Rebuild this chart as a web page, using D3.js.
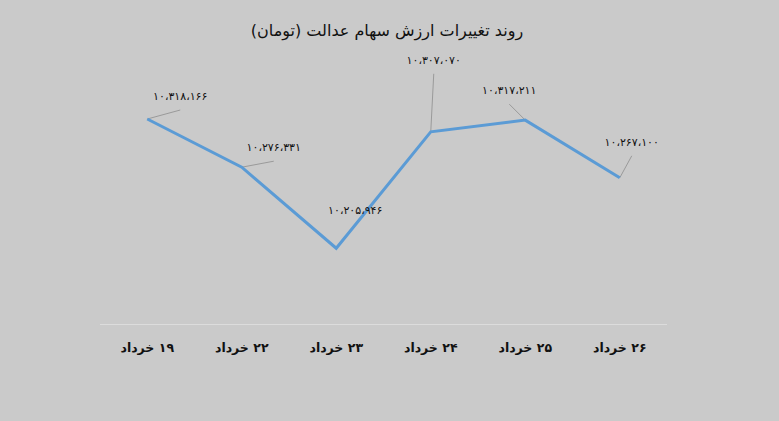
<!DOCTYPE html>
<html><head><meta charset="utf-8">
<script src="https://cdn.jsdelivr.net/npm/d3@7"></script>
<style>
html,body{margin:0;padding:0;background:#cacaca;}
svg{display:block;}
</style></head>
<body>
<svg id="chart" width="779" height="421"></svg>
<script>
const title = "روند تغییرات ارزش سهام عدالت (تومان)";
const categories = ["۱۹ خرداد","۲۲ خرداد","۲۳ خرداد","۲۴ خرداد","۲۵ خرداد","۲۶ خرداد"];
const values = [10318166, 10276331, 10205946, 10307070, 10317211, 10267100];
// label placement offsets relative to point (layout only)
const labelDx = [33, 32, 19, 3, -16, 12];
const labelDy = [-22, -19, -37, -71, -29, -35];
const leader = [true, true, false, true, true, true];

const fa = s => s.replace(/\d/g, d => "۰۱۲۳۴۵۶۷۸۹"[d]);
const fmt = v => fa(d3.format(",")(v)).replace(/,/g, "،");

const svg = d3.select("#chart");
const x = d3.scaleBand().domain(categories).range([100, 667]);
const y = d3.scaleLinear().domain([10200000, 10320000]).range([255.1, 116.9]);
const cx = c => x(c) + x.bandwidth()/2;
const font = "'DejaVu Sans', sans-serif";

svg.append("text").attr("x", 387).attr("y", 31).attr("text-anchor","middle")
  .attr("dominant-baseline","middle").attr("font-family", font).attr("font-size", 16)
  .attr("fill","#111").attr("direction","rtl").text(title);

// axis line
svg.append("line").attr("x1", 100).attr("x2", 667).attr("y1", 324.5).attr("y2", 324.5)
  .attr("stroke", "#dcdcdc").attr("stroke-width", 1);

// category labels
svg.selectAll("text.cat").data(categories).join("text").attr("class","cat")
  .attr("x", d => cx(d)).attr("y", 348).attr("text-anchor","middle")
  .attr("dominant-baseline","middle").attr("font-family", font).attr("font-size", 12.5)
  .attr("font-weight","bold").attr("fill","#111").attr("direction","rtl").text(d => d);

const pts = categories.map((c,i) => ({c, v: values[i], i}));

// leader lines
svg.selectAll("line.lead").data(pts.filter(p => leader[p.i])).join("line").attr("class","lead")
  .attr("x1", p => cx(p.c)).attr("y1", p => y(p.v))
  .attr("x2", p => cx(p.c) + labelDx[p.i]).attr("y2", p => y(p.v) + labelDy[p.i] + 13)
  .attr("stroke", "#9a9a9a").attr("stroke-width", 1);

// line
svg.append("path").datum(pts)
  .attr("d", d3.line().x(p => cx(p.c)).y(p => y(p.v)))
  .attr("fill","none").attr("stroke","#5b9bd5").attr("stroke-width", 3).attr("stroke-linejoin","miter");

// data labels
svg.selectAll("text.lbl").data(pts).join("text").attr("class","lbl")
  .attr("x", p => cx(p.c) + labelDx[p.i]).attr("y", p => y(p.v) + labelDy[p.i])
  .attr("text-anchor","middle").attr("dominant-baseline","middle")
  .attr("font-family", font).attr("font-size", 11).attr("fill","#111")
  .text(p => fmt(p.v));
</script>
</body></html>
